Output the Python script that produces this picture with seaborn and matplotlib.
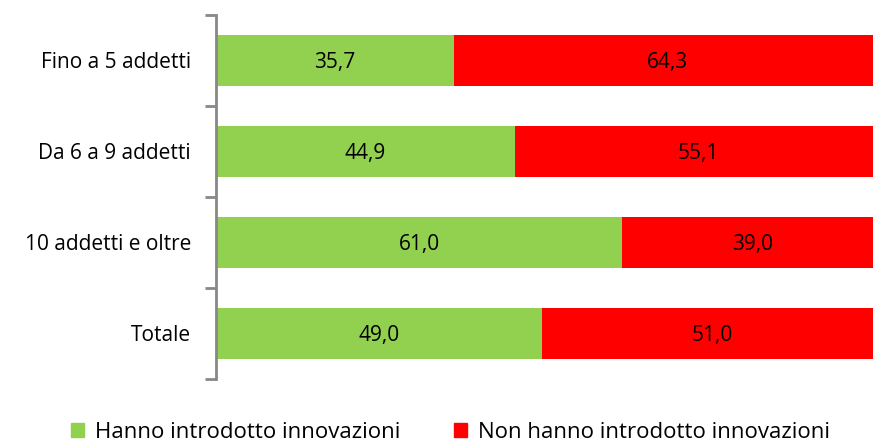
import pandas as pd
import matplotlib.pyplot as plt
import seaborn as sns
from matplotlib.patches import Patch

categories = ['Fino a 5 addetti', 'Da 6 a 9 addetti', '10 addetti e oltre', 'Totale']
innovated = [35.7, 44.9, 61.0, 49.0]
not_innovated = [64.3, 55.1, 39.0, 51.0]
series_names = ['Hanno introdotto innovazioni', 'Non hanno introdotto innovazioni']

green = '#92D050'
red = '#FF0000'

data = pd.DataFrame({'categoria': categories,
                     'si': innovated,
                     'no': not_innovated})
data['totale'] = data['si'] + data['no']

sns.set_style('white')
plt.rcParams['font.family'] = ['Open Sans', 'DejaVu Sans']
plt.rcParams['text.color'] = 'black'
plt.rcParams['ytick.labelcolor'] = 'black'

fig = plt.figure(figsize=(8.73, 4.41), dpi=100)
# the plot area runs a little past the right edge of the image, as in the original
ax = fig.add_axes([0.2474, 0.1406, 0.763, 0.8254])

sns.barplot(data=data, x='totale', y='categoria', color=red, width=0.56,
            saturation=1, linewidth=0, ax=ax)
sns.barplot(data=data, x='si', y='categoria', color=green, width=0.56,
            saturation=1, linewidth=0, ax=ax)

fs = 15
for i, (a, b) in enumerate(zip(innovated, not_innovated)):
    ax.text(a / 2, i, f'{a:.1f}'.replace('.', ','), ha='center',
            va='center_baseline', fontsize=fs, color='black')
    ax.text(a + b / 2, i, f'{b:.1f}'.replace('.', ','), ha='center',
            va='center_baseline', fontsize=fs, color='black')

ax.set_xlim(0, 100)
ax.set_ylim(3.5, -0.5)
ax.set_xlabel('')
ax.set_ylabel('')
ax.set_xticks([])
ax.set_yticks(range(len(categories)))
ax.set_yticklabels(categories, fontsize=fs, color='black')
ax.set_yticks([-0.5, 0.5, 1.5, 2.5, 3.5], minor=True)
ax.tick_params(axis='y', which='major', left=False, length=0, pad=18)
ax.tick_params(axis='y', which='minor', left=True, length=8, width=2,
               color='#888888')
for s in ['top', 'right', 'bottom']:
    ax.spines[s].set_visible(False)
ax.spines['left'].set_color('#888888')
ax.spines['left'].set_linewidth(2)

handles = [Patch(color=green, label=series_names[0]),
           Patch(color=red, label=series_names[1])]
fig.legend(handles=handles, loc='center', bbox_to_anchor=(0.516, 0.02),
           ncol=2, frameon=False, fontsize=16, handlelength=0.6,
           handleheight=0.6, handletextpad=0.5, columnspacing=2.4,
           borderaxespad=0, borderpad=0)

fig.savefig('out.png', dpi=100)
